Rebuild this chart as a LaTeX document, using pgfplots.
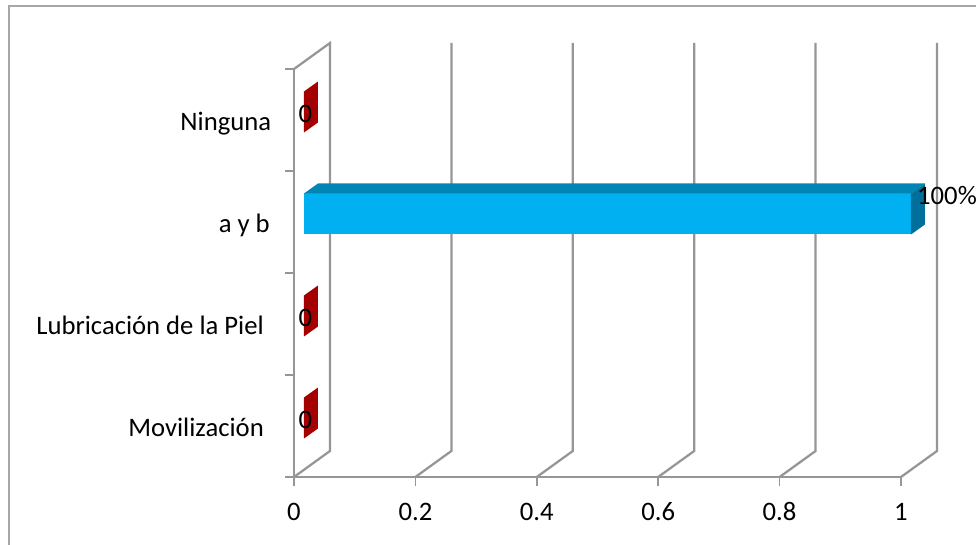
\documentclass[border=0pt]{standalone}
\usepackage{fontspec}
\setmainfont{Carlito}
\usepackage{pgfplots}
\pgfplotsset{compat=1.18}
\definecolor{wallgrey}{HTML}{969696}
\definecolor{framegrey}{HTML}{A6A6A6}
\definecolor{barblue}{HTML}{00B0F0}
\definecolor{bartop}{HTML}{0085B5}
\definecolor{barside}{HTML}{006F9B}
\definecolor{barred}{HTML}{A50000}
\newcommand{\chartfont}{\fontsize{20}{24}\selectfont}
\begin{document}
\begin{tikzpicture}
% page size and outer chart frame (lengths in pt, 0.75pt per pixel)
\path[use as bounding box] (-220.5pt,-51pt) rectangle (511.5pt,357.75pt);
\draw[framegrey,line width=1.1pt] (-213.9pt,-51pt) -- (-213.9pt,353.4pt) -- (511.5pt,353.4pt);
\begin{axis}[
  at={(0pt,0pt)}, anchor=origin,
  scale only axis, width=455.25pt, height=306pt,
  xmin=0, xmax=1, ymin=0, ymax=4,
  clip=false,
  axis x line*=bottom, axis y line*=left,
  axis line style={wallgrey,line width=1.7pt,-},
  tick style={wallgrey,line width=1.1pt},
  xtick align=outside, ytick align=outside,
  major tick length=6.5pt,
  xtick={0,0.2,0.4,0.6,0.8,1},
  xticklabels={0,0.2,0.4,0.6,0.8,1},
  ytick={0,1,2,3,4}, yticklabels={},
  extra y ticks={0.5,1.5,2.5,3.5},
  extra y tick labels={Movilización\hspace*{5.5pt},Lubricación de la Piel\hspace*{5.5pt},a y b\hspace*{1.1pt},Ninguna},
  extra y tick style={major tick length=0pt,tick style={draw=none}},
  tick label style={font=\chartfont,black},
  typeset ticklabels with strut,
  y tick label style={yshift=-3pt},
  xticklabel style={yshift=-5.5pt},
  yticklabel style={xshift=-13.6pt},
]
% side walls and vertical grid lines
\addplot[wallgrey,line width=1.7pt,forget plot] coordinates {(0,4) (0.0593,4.2549) (0.0593,0.2549) (0,0)};
\addplot[wallgrey,line width=1.7pt,forget plot] coordinates {(0.2,0) (0.2593,0.2549) (0.2593,4.2549)};
\addplot[wallgrey,line width=1.7pt,forget plot] coordinates {(0.4,0) (0.4593,0.2549) (0.4593,4.2549)};
\addplot[wallgrey,line width=1.7pt,forget plot] coordinates {(0.6,0) (0.6593,0.2549) (0.6593,4.2549)};
\addplot[wallgrey,line width=1.7pt,forget plot] coordinates {(0.8,0) (0.8593,0.2549) (0.8593,4.2549)};
\addplot[wallgrey,line width=1.7pt,forget plot] coordinates {(1,0) (1.0593,0.2549) (1.0593,4.2549)};
% bars, set back from the front plane
\begin{scope}[xshift=3.75pt,yshift=3pt]
\addplot[xbar,bar width=30.75pt,bar shift=0pt,fill=barblue,draw=none,forget plot] coordinates {(1,2.5)};
\addplot[fill=bartop,draw=none,forget plot] coordinates {(0,2.701) (0.02306,2.799) (1.02306,2.799) (1,2.701)} --cycle;
\addplot[fill=barside,draw=none,forget plot] coordinates {(1,2.299) (1.02306,2.397) (1.02306,2.799) (1,2.701)} --cycle;
\addplot[fill=barred,draw=none,forget plot] coordinates {(0,0.299) (0.02306,0.397) (0.02306,0.799) (0,0.701)} --cycle;
\addplot[fill=barred,draw=none,forget plot] coordinates {(0,1.299) (0.02306,1.397) (0.02306,1.799) (0,1.701)} --cycle;
\addplot[fill=barred,draw=none,forget plot] coordinates {(0,3.299) (0.02306,3.397) (0.02306,3.799) (0,3.701)} --cycle;
\end{scope}
% value labels
\node[font=\chartfont,xshift=8.5pt,yshift=4.5pt] at (axis cs:0,0.5) {0};
\node[font=\chartfont,xshift=8.5pt,yshift=4.5pt] at (axis cs:0,1.5) {0};
\node[font=\chartfont,xshift=8.5pt,yshift=4.5pt] at (axis cs:0,3.5) {0};
\node[font=\chartfont,xshift=34.5pt,yshift=19.5pt] at (axis cs:1,2.5) {100\%};
\end{axis}
\end{tikzpicture}
\end{document}
